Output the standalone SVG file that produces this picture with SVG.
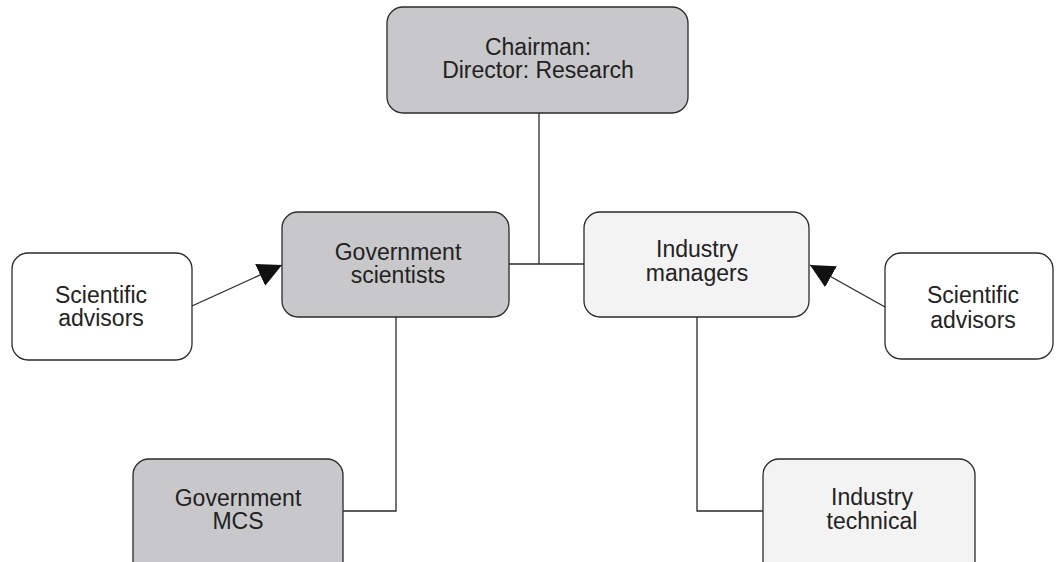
<svg xmlns="http://www.w3.org/2000/svg" width="1056" height="562" viewBox="0 0 1056 562">
<defs>
<style>
.box{stroke:#2a2a2a;stroke-width:1.3}
.dark{fill:#c8c8ca}
.light{fill:#f3f3f3}
.white{fill:#ffffff}
.t{font-family:"Liberation Sans",Arial,sans-serif;font-size:23px;fill:#222;text-anchor:middle}
.c{stroke:#2a2a2a;stroke-width:1.3;fill:none}
</style>
<marker id="ah" viewBox="0 0 10 10" refX="10" refY="5" markerWidth="24" markerHeight="24" markerUnits="userSpaceOnUse" orient="auto">
<path d="M0,0 L10,5 L0,10 Z" fill="#111"/>
</marker>
</defs>
<rect width="1056" height="562" fill="#fff"/>
<g id="connectors">
<line class="c" x1="539" y1="113" x2="539" y2="264"/>
<line class="c" x1="509" y1="264" x2="584" y2="264"/>
<polyline class="c" points="396,317 396,511 343,511"/>
<polyline class="c" points="697,317 697,511 763,511"/>
<line class="c" x1="192" y1="306" x2="282" y2="265" marker-end="url(#ah)"/>
<line class="c" x1="885" y1="307" x2="810" y2="265" marker-end="url(#ah)"/>
</g>
<g id="chairman">
<rect class="box dark" x="387" y="7" width="301" height="106" rx="16"/>
<text class="t" x="538" y="55">Chairman:</text>
<text class="t" x="538" y="78">Director: Research</text>
</g>
<g id="gov-scientists">
<rect class="box dark" x="282" y="212" width="227" height="105" rx="16"/>
<text class="t" x="398" y="260">Government</text>
<text class="t" x="398" y="283">scientists</text>
</g>
<g id="industry-managers">
<rect class="box light" x="584" y="212" width="225" height="105" rx="16"/>
<text class="t" x="697" y="257">Industry</text>
<text class="t" x="697" y="281">managers</text>
</g>
<g id="sci-advisors-left">
<rect class="box white" x="12" y="253" width="180" height="107" rx="16"/>
<text class="t" x="101" y="303">Scientific</text>
<text class="t" x="101" y="326">advisors</text>
</g>
<g id="sci-advisors-right">
<rect class="box white" x="885" y="253" width="168" height="106" rx="16"/>
<text class="t" x="973" y="303">Scientific</text>
<text class="t" x="973" y="328">advisors</text>
</g>
<g id="gov-mcs">
<rect class="box dark" x="133" y="459" width="210" height="120" rx="16"/>
<text class="t" x="238" y="506">Government</text>
<text class="t" x="238" y="529">MCS</text>
</g>
<g id="industry-technical">
<rect class="box light" x="763" y="459" width="212" height="120" rx="16"/>
<text class="t" x="872" y="505">Industry</text>
<text class="t" x="872" y="529">technical</text>
</g>
</svg>
